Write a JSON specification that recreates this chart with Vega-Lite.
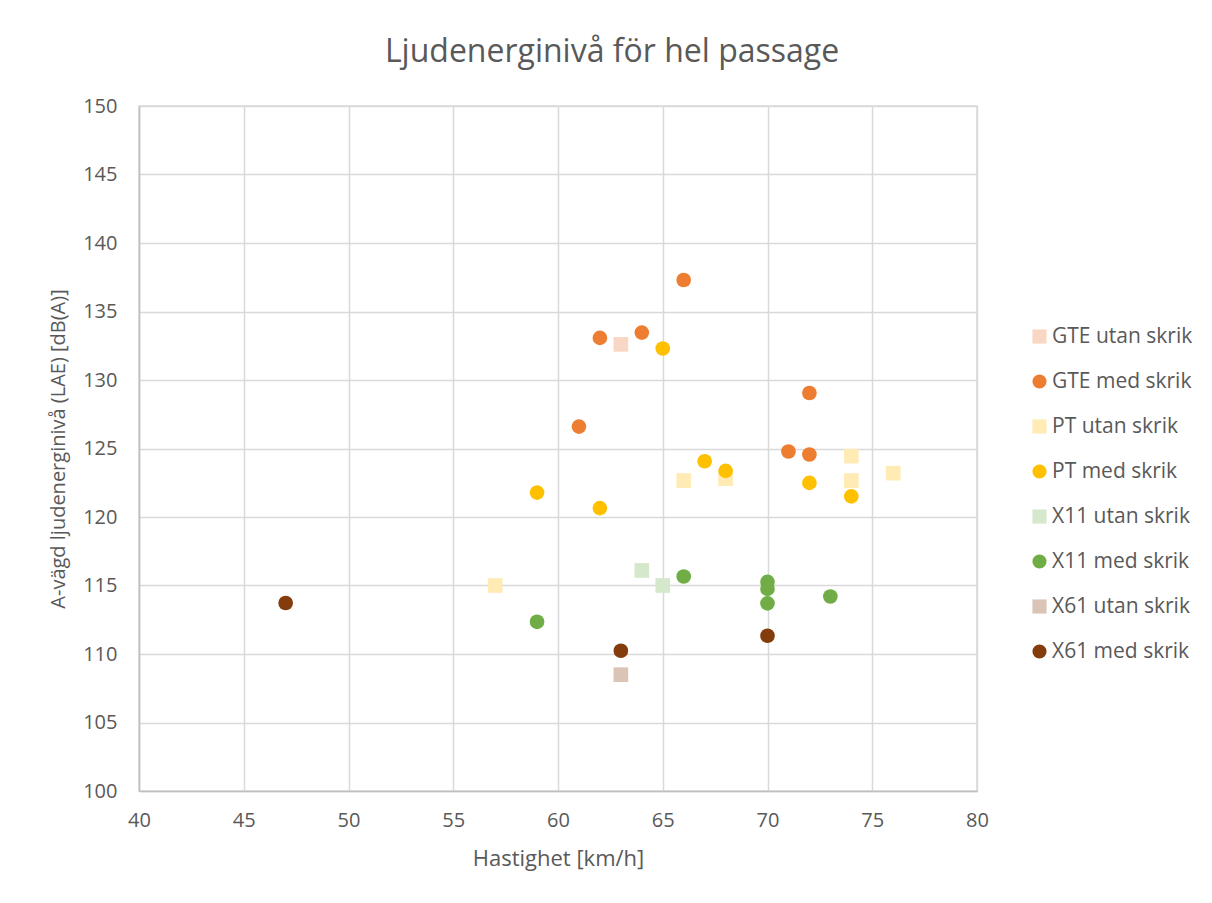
{
  "$schema": "https://vega.github.io/schema/vega-lite/v6.json",
  "width": 838,
  "height": 685,
  "autosize": {"type": "none"},
  "padding": {"left": 139, "top": 106, "right": 235, "bottom": 112},
  "background": "white",
  "title": {
    "text": "Ljudenerginivå för hel passage",
    "font": "Open Sans",
    "fontSize": 32,
    "fontWeight": "normal",
    "color": "#595959",
    "anchor": "middle",
    "dx": 54,
    "offset": 27
  },
  "data": {
    "values": [
      {"serie": "GTE utan skrik", "v": 63, "L": 132.6},
      {"serie": "GTE med skrik", "v": 66, "L": 137.3},
      {"serie": "GTE med skrik", "v": 62, "L": 133.07},
      {"serie": "GTE med skrik", "v": 64, "L": 133.46},
      {"serie": "GTE med skrik", "v": 61, "L": 126.6},
      {"serie": "GTE med skrik", "v": 72, "L": 129.05},
      {"serie": "GTE med skrik", "v": 71, "L": 124.78},
      {"serie": "GTE med skrik", "v": 72, "L": 124.56},
      {"serie": "PT utan skrik", "v": 66, "L": 122.66},
      {"serie": "PT utan skrik", "v": 68, "L": 122.8},
      {"serie": "PT utan skrik", "v": 74, "L": 124.44},
      {"serie": "PT utan skrik", "v": 74, "L": 122.66},
      {"serie": "PT utan skrik", "v": 76, "L": 123.2},
      {"serie": "PT utan skrik", "v": 57, "L": 115.0},
      {"serie": "PT med skrik", "v": 65, "L": 132.3},
      {"serie": "PT med skrik", "v": 67, "L": 124.07},
      {"serie": "PT med skrik", "v": 68, "L": 123.37},
      {"serie": "PT med skrik", "v": 72, "L": 122.49},
      {"serie": "PT med skrik", "v": 74, "L": 121.51},
      {"serie": "PT med skrik", "v": 62, "L": 120.65},
      {"serie": "PT med skrik", "v": 59, "L": 121.78},
      {"serie": "X11 utan skrik", "v": 64, "L": 116.1},
      {"serie": "X11 utan skrik", "v": 65, "L": 115.0},
      {"serie": "X11 med skrik", "v": 66, "L": 115.66},
      {"serie": "X11 med skrik", "v": 70, "L": 115.26},
      {"serie": "X11 med skrik", "v": 70, "L": 114.75},
      {"serie": "X11 med skrik", "v": 70, "L": 113.7},
      {"serie": "X11 med skrik", "v": 73, "L": 114.2},
      {"serie": "X11 med skrik", "v": 59, "L": 112.35},
      {"serie": "X61 utan skrik", "v": 63, "L": 108.49},
      {"serie": "X61 med skrik", "v": 63, "L": 110.24},
      {"serie": "X61 med skrik", "v": 70, "L": 111.33},
      {"serie": "X61 med skrik", "v": 47, "L": 113.72}
    ]
  },
  "mark": {"type": "point", "filled": true, "opacity": 1, "size": 215},
  "encoding": {
    "x": {
      "field": "v", "type": "quantitative",
      "scale": {"domain": [40, 80], "nice": false, "zero": false},
      "axis": {"values": [40,45,50,55,60,65,70,75,80], "title": "Hastighet [km/h]", "titleFontSize": 22, "titlePadding": 18, "labelPadding": 19, "labelFlush": false, "labelOverlap": false}
    },
    "y": {
      "field": "L", "type": "quantitative",
      "scale": {"domain": [100, 150], "nice": false, "zero": false},
      "axis": {"values": [100,105,110,115,120,125,130,135,140,145,150], "title": "A-vägd ljudenerginivå (LAE) [dB(A)]", "titleFontSize": 20, "titlePadding": 14, "labelPadding": 22, "labelFlush": false, "labelOverlap": false}
    },
    "color": {
      "field": "serie", "type": "nominal",
      "scale": {
        "domain": ["GTE utan skrik","GTE med skrik","PT utan skrik","PT med skrik","X11 utan skrik","X11 med skrik","X61 utan skrik","X61 med skrik"],
        "range": ["#F8D8C4","#ED7D31","#FFEBB3","#FFC000","#D5E8CC","#70AD47","#DAC4B6","#843C0C"]
      },
      "legend": {"title": null}
    },
    "shape": {
      "field": "serie", "type": "nominal",
      "scale": {
        "domain": ["GTE utan skrik","GTE med skrik","PT utan skrik","PT med skrik","X11 utan skrik","X11 med skrik","X61 utan skrik","X61 med skrik"],
        "range": ["square","circle","square","circle","square","circle","square","circle"]
      },
      "legend": {"title": null}
    }
  },
  "config": {
    "font": "Open Sans",
    "view": {"stroke": "#D9D9D9", "strokeWidth": 1.5},
    "axis": {
      "grid": true,
      "gridColor": "#D9D9D9",
      "gridWidth": 1.5,
      "domainColor": "#BFBFBF",
      "domainWidth": 1.5,
      "ticks": false,
      "labelFont": "Open Sans",
      "labelFontSize": 20,
      "labelColor": "#595959",
      "titleFont": "Open Sans",
      "titleFontWeight": "normal",
      "titleColor": "#595959"
    },
    "legend": {
      "orient": "none",
      "legendX": 890,
      "legendY": 220,
      "labelFont": "Open Sans",
      "labelFontSize": 21,
      "labelColor": "#595959",
      "symbolSize": 200,
      "symbolStrokeWidth": 0,
      "labelOffset": 2,
      "rowPadding": 23,
      "labelLimit": 300
    }
  }
}
